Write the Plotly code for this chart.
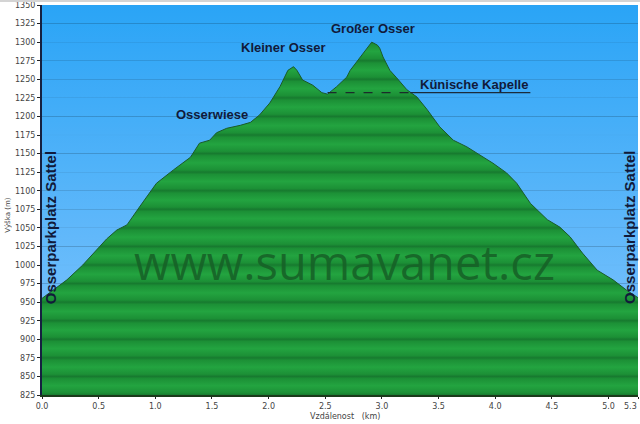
import plotly.graph_objects as go

# ---------------- data ----------------
DIST_KM = [0.00, 0.07, 0.22, 0.36, 0.57, 0.66, 0.75, 0.86, 1.01, 1.16, 1.31, 1.39, 1.48,
           1.54, 1.63, 1.75, 1.84, 1.92, 2.01, 2.10, 2.17, 2.22, 2.25, 2.30, 2.39, 2.47,
           2.52, 2.60, 2.69, 2.72, 2.81, 2.87, 2.91, 2.96, 2.98, 3.01, 3.07, 3.13, 3.22,
           3.31, 3.40, 3.51, 3.63, 3.75, 3.89, 3.98, 4.10, 4.19, 4.31, 4.46, 4.57, 4.66,
           4.77, 4.90, 5.04, 5.16, 5.26]
ELEV_M = [955, 963, 980, 1000, 1035, 1047, 1054, 1078, 1110, 1128, 1145, 1164, 1168,
          1178, 1184, 1188, 1192, 1202, 1218, 1240, 1262, 1267, 1262, 1249, 1242, 1232,
          1230, 1240, 1253, 1262, 1280, 1293, 1300, 1296, 1292, 1280, 1262, 1252, 1236,
          1226, 1209, 1186, 1168, 1159, 1146, 1137, 1124, 1110, 1083, 1061, 1051, 1038,
          1016, 993, 980, 966, 956]

Y_MIN, Y_MAX, Y_STEP = 825, 1350, 25
X_MAX = 5.26
X_TICK_VALS = [0.0, 0.5, 1.0, 1.5, 2.0, 2.5, 3.0, 3.5, 4.0, 4.5, 5.0, 5.26]
X_TICK_TEXT = ["0.0", "0.5", "1.0", "1.5", "2.0", "2.5", "3.0", "3.5", "4.0", "4.5", "5.0", "5.3"]
Y_TICK_VALS = list(range(Y_MIN, Y_MAX + 1, Y_STEP))

# labelled places: (text, km, elevation of label)
PEAK_LABELS = [("Großer Osser", 2.92, 1318), ("Kleiner Osser", 2.13, 1293),
               ("Osserwiese", 1.50, 1202)]
KAPELLE_TEXT = "Künische Kapelle"
KAPELLE_START_KM, KAPELLE_SOLID_KM, KAPELLE_END_KM, KAPELLE_ELEV = 2.52, 3.25, 4.31, 1232
START_END_TEXT = "Osserparkplatz Sattel"
WATERMARK = "www.sumavanet.cz"


# ---------------- helpers for colour ramps ----------------
def hex2rgb(h):
    h = h.lstrip("#")
    return tuple(int(h[i:i + 2], 16) for i in (0, 2, 4))


def mix(c1, c2, t):
    a, b = hex2rgb(c1), hex2rgb(c2)
    return "rgb(%d,%d,%d)" % tuple(round(a[i] + (b[i] - a[i]) * t) for i in range(3))


def darken(rgbstr, k):
    vals = [int(v) for v in rgbstr[4:-1].split(",")]
    return "rgb(%d,%d,%d)" % tuple(round(v * k) for v in vals)


span = Y_MAX - Y_MIN
d = 0.7 / span

# blue sky background with thin grid lines
sky_bottom, sky_top = "#86c6fd", "#2aa4f6"
sky_scale = []
for g in Y_TICK_VALS:
    f = (g - Y_MIN) / span
    base = mix(sky_bottom, sky_top, f)
    line = darken(base, 0.80)
    for ff, col in ((f - d, base), (f, line), (f + d, base)):
        if 0 <= ff <= 1:
            sky_scale.append([ff, col])
sky_scale[0][0] = 0.0
sky_scale[-1][0] = 1.0

# green striped mountain fill
g_dark, g_mid, g_light = "#177a2f", "#1c9036", "#23a440"
green_scale = []
for i, g in enumerate(Y_TICK_VALS):
    f = (g - Y_MIN) / span
    if i > 0:
        green_scale.append([f - 3 / span, g_mid])
    green_scale.append([f, g_dark])
    if i < len(Y_TICK_VALS) - 1:
        green_scale.append([f + 3 / span, g_mid])
        green_scale.append([f + 12.5 / span, g_light])

fig = go.Figure()

# background sky
fig.add_trace(go.Scatter(
    x=[0, X_MAX, X_MAX, 0, 0], y=[Y_MAX, Y_MAX, Y_MIN, Y_MIN, Y_MAX],
    mode="none", fill="toself",
    fillgradient=dict(type="vertical", colorscale=sky_scale, start=Y_MIN, stop=Y_MAX),
    hoverinfo="skip", showlegend=False))

# elevation profile
fig.add_trace(go.Scatter(
    x=DIST_KM, y=ELEV_M, mode="lines", fill="tozeroy",
    line=dict(color="#1a5a2a", width=1),
    fillgradient=dict(type="vertical", colorscale=green_scale, start=Y_MIN, stop=Y_MAX),
    showlegend=False))

C = dict(xanchor="center", yanchor="middle", showarrow=False)
label_font = dict(family="Liberation Sans, Arial", size=13, color="#111a3a")
annotations = []
for text, km, el in PEAK_LABELS:
    annotations.append(dict(x=km, y=el, xref="x", yref="y", text="<b>%s</b>" % text,
                            font=label_font, **C))
annotations.append(dict(x=(KAPELLE_SOLID_KM + KAPELLE_END_KM) / 2 + 0.03, y=KAPELLE_ELEV,
                        xref="x", yref="y", text="<b>%s</b>" % KAPELLE_TEXT,
                        font=label_font, showarrow=False, xanchor="center",
                        yanchor="bottom", yshift=-1))
vert_font = dict(family="Liberation Sans, Arial", size=15, color="#111a3a")
annotations.append(dict(x=0.0134, y=0.43, xref="paper", yref="paper",
                        text="<b>%s</b>" % START_END_TEXT, textangle=-90,
                        font=vert_font, **C))
annotations.append(dict(x=0.986, y=0.43, xref="paper", yref="paper",
                        text="<b>%s</b>" % START_END_TEXT, textangle=-90,
                        font=vert_font, **C))
annotations.append(dict(x=0.508, y=0.341, xref="paper", yref="paper", text=WATERMARK,
                        font=dict(family="Open Sans", size=47, color="rgba(22,95,38,0.85)"),
                        **C))
annotations.append(dict(x=-0.057, y=0.46, xref="paper", yref="paper", text="Výška (m)",
                        textangle=-90,
                        font=dict(family="DejaVu Sans", size=7, color="#444"), **C))
annotations.append(dict(x=0.508, y=-0.056, xref="paper", yref="paper",
                        text="Vzdálenost&nbsp;&nbsp;&nbsp;(km)",
                        font=dict(family="DejaVu Sans", size=8, color="#444"), **C))

tick_font = dict(family="DejaVu Sans", size=8, color="#444")
# last tick label would be clipped at the page edge, so place it right-aligned
annotations.append(dict(x=X_MAX, y=0, xref="x", yref="paper", text=X_TICK_TEXT[-1],
                        xanchor="right", yanchor="top", yshift=-5, xshift=1,
                        showarrow=False, font=tick_font))
tick_text_axis = X_TICK_TEXT[:-1] + [""]

shapes = [
    dict(type="line", xref="x", yref="y", x0=KAPELLE_START_KM, x1=KAPELLE_SOLID_KM,
         y0=KAPELLE_ELEV, y1=KAPELLE_ELEV, line=dict(color="#1b2b2a", width=1.2, dash="dash")),
    dict(type="line", xref="x", yref="y", x0=KAPELLE_SOLID_KM, x1=KAPELLE_END_KM,
         y0=KAPELLE_ELEV, y1=KAPELLE_ELEV, line=dict(color="#1b2b3a", width=1.2)),
    dict(type="line", xref="paper", yref="paper", x0=-0.08, x1=1.01, y0=1.0115, y1=1.0115,
         line=dict(color="#d4d4d4", width=3)),
]

fig.update_layout(
    width=640, height=424,
    margin=dict(l=42, r=2, t=5, b=29),
    paper_bgcolor="white", plot_bgcolor="#86c6fd",
    annotations=annotations, shapes=shapes,
    xaxis=dict(range=[0, X_MAX], tickvals=X_TICK_VALS, ticktext=tick_text_axis,
               showgrid=False, zeroline=False, ticks="outside", ticklen=2,
               tickcolor="#222", showline=True, linecolor="#1a3a1a", linewidth=2,
               tickfont=tick_font, layer="above traces", automargin=False),
    yaxis=dict(range=[Y_MIN, Y_MAX], tickvals=Y_TICK_VALS, showgrid=False, zeroline=False,
               ticks="outside", ticklen=3, tickcolor="#222", showline=True,
               linecolor="#152040", linewidth=2, tickfont=tick_font, layer="above traces",
               automargin=False),
)

fig.write_html("out.html", config={"displayModeBar": False},
               post_script="document.body.style.margin='0';"
                           "document.body.style.overflow='hidden';")
